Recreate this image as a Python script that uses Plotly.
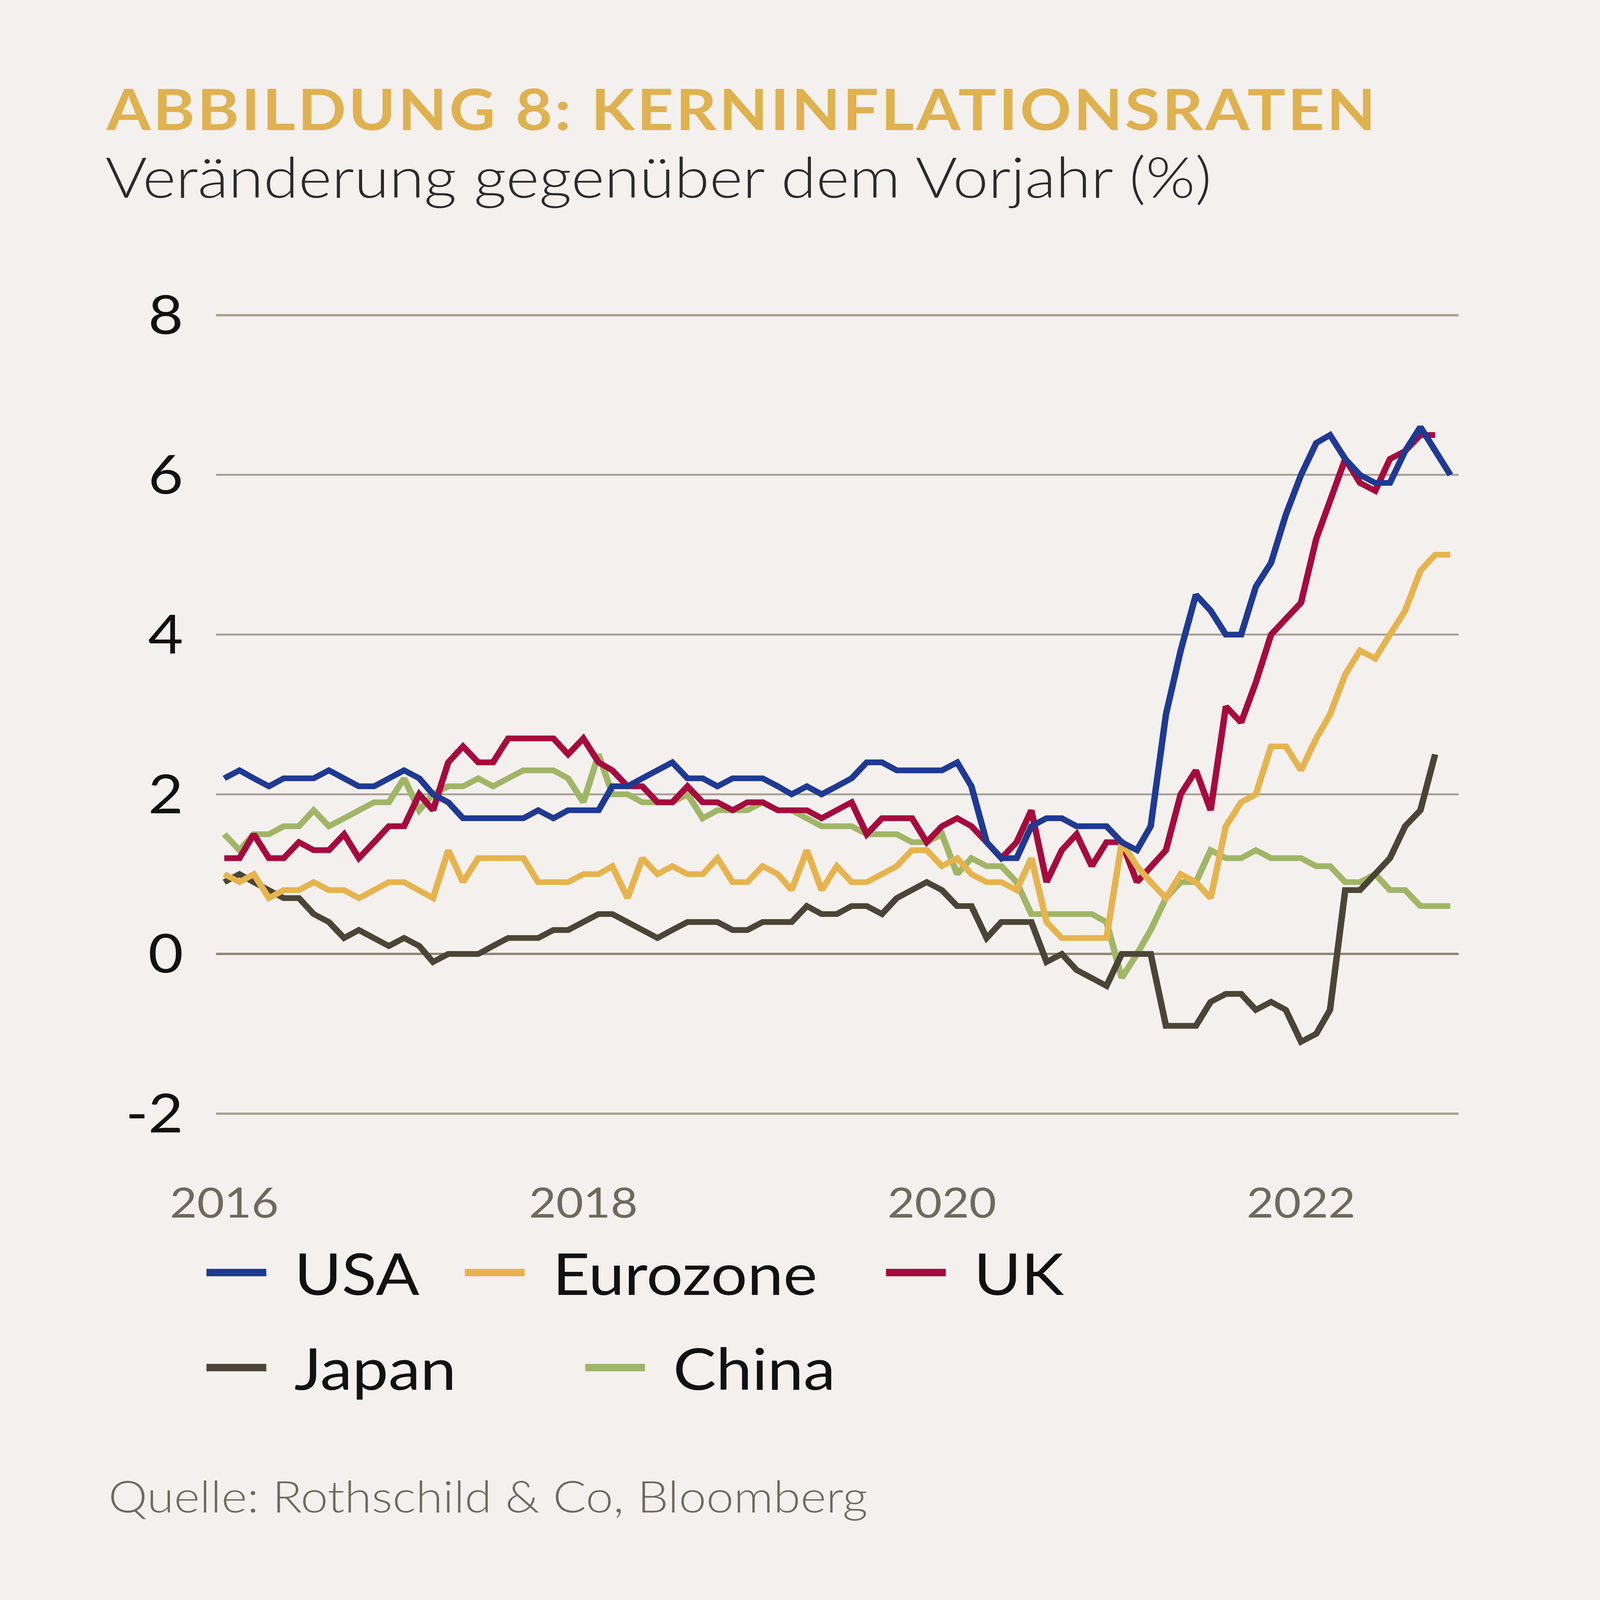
import pandas as pd
import plotly.graph_objects as go

W, H = 4224, 4750
ML, MR, MT, MB = 570, 373, 924, 1432
PW, PH = W - ML - MR, H - MT - MB
# the photographed area is 4096 x 4096; the page is scaled to fill it
VIEW_W, VIEW_H = 4096, 4096

months = pd.date_range("2016-01-01", periods=83, freq="MS")
tick_years = ["2016", "2018", "2020", "2022"]
y_ticks = [-2, 0, 2, 4, 6, 8]
y_tick_text = ["-2", "0", "2", "4", "6", "8"]

usa = [2.2, 2.3, 2.2, 2.1, 2.2, 2.2, 2.2, 2.3, 2.2, 2.1, 2.1, 2.2,
       2.3, 2.2, 2.0, 1.9, 1.7, 1.7, 1.7, 1.7, 1.7, 1.8, 1.7, 1.8,
       1.8, 1.8, 2.1, 2.1, 2.2, 2.3, 2.4, 2.2, 2.2, 2.1, 2.2, 2.2,
       2.2, 2.1, 2.0, 2.1, 2.0, 2.1, 2.2, 2.4, 2.4, 2.3, 2.3, 2.3,
       2.3, 2.4, 2.1, 1.4, 1.2, 1.2, 1.6, 1.7, 1.7, 1.6, 1.6, 1.6,
       1.4, 1.3, 1.6, 3.0, 3.8, 4.5, 4.3, 4.0, 4.0, 4.6, 4.9, 5.5,
       6.0, 6.4, 6.5, 6.2, 6.0, 5.9, 5.9, 6.3, 6.6, 6.3, 6.0]

eurozone = [1.0, 0.9, 1.0, 0.7, 0.8, 0.8, 0.9, 0.8, 0.8, 0.7, 0.8, 0.9,
            0.9, 0.8, 0.7, 1.3, 0.9, 1.2, 1.2, 1.2, 1.2, 0.9, 0.9, 0.9,
            1.0, 1.0, 1.1, 0.7, 1.2, 1.0, 1.1, 1.0, 1.0, 1.2, 0.9, 0.9,
            1.1, 1.0, 0.8, 1.3, 0.8, 1.1, 0.9, 0.9, 1.0, 1.1, 1.3, 1.3,
            1.1, 1.2, 1.0, 0.9, 0.9, 0.8, 1.2, 0.4, 0.2, 0.2, 0.2, 0.2,
            1.4, 1.1, 0.9, 0.7, 1.0, 0.9, 0.7, 1.6, 1.9, 2.0, 2.6, 2.6,
            2.3, 2.7, 3.0, 3.5, 3.8, 3.7, 4.0, 4.3, 4.8, 5.0, 5.0]

uk = [1.2, 1.2, 1.5, 1.2, 1.2, 1.4, 1.3, 1.3, 1.5, 1.2, 1.4, 1.6,
      1.6, 2.0, 1.8, 2.4, 2.6, 2.4, 2.4, 2.7, 2.7, 2.7, 2.7, 2.5,
      2.7, 2.4, 2.3, 2.1, 2.1, 1.9, 1.9, 2.1, 1.9, 1.9, 1.8, 1.9,
      1.9, 1.8, 1.8, 1.8, 1.7, 1.8, 1.9, 1.5, 1.7, 1.7, 1.7, 1.4,
      1.6, 1.7, 1.6, 1.4, 1.2, 1.4, 1.8, 0.9, 1.3, 1.5, 1.1, 1.4,
      1.4, 0.9, 1.1, 1.3, 2.0, 2.3, 1.8, 3.1, 2.9, 3.4, 4.0, 4.2,
      4.4, 5.2, 5.7, 6.2, 5.9, 5.8, 6.2, 6.3, 6.5, 6.5]

japan = [0.9, 1.0, 0.9, 0.8, 0.7, 0.7, 0.5, 0.4, 0.2, 0.3, 0.2, 0.1,
         0.2, 0.1, -0.1, 0.0, 0.0, 0.0, 0.1, 0.2, 0.2, 0.2, 0.3, 0.3,
         0.4, 0.5, 0.5, 0.4, 0.3, 0.2, 0.3, 0.4, 0.4, 0.4, 0.3, 0.3,
         0.4, 0.4, 0.4, 0.6, 0.5, 0.5, 0.6, 0.6, 0.5, 0.7, 0.8, 0.9,
         0.8, 0.6, 0.6, 0.2, 0.4, 0.4, 0.4, -0.1, 0.0, -0.2, -0.3, -0.4,
         0.0, 0.0, 0.0, -0.9, -0.9, -0.9, -0.6, -0.5, -0.5, -0.7, -0.6, -0.7,
         -1.1, -1.0, -0.7, 0.8, 0.8, 1.0, 1.2, 1.6, 1.8, 2.5]

china = [1.5, 1.3, 1.5, 1.5, 1.6, 1.6, 1.8, 1.6, 1.7, 1.8, 1.9, 1.9,
         2.2, 1.8, 2.0, 2.1, 2.1, 2.2, 2.1, 2.2, 2.3, 2.3, 2.3, 2.2,
         1.9, 2.5, 2.0, 2.0, 1.9, 1.9, 1.9, 2.0, 1.7, 1.8, 1.8, 1.8,
         1.9, 1.8, 1.8, 1.7, 1.6, 1.6, 1.6, 1.5, 1.5, 1.5, 1.4, 1.4,
         1.5, 1.0, 1.2, 1.1, 1.1, 0.9, 0.5, 0.5, 0.5, 0.5, 0.5, 0.4,
         -0.3, 0.0, 0.3, 0.7, 0.9, 0.9, 1.3, 1.2, 1.2, 1.3, 1.2, 1.2,
         1.2, 1.1, 1.1, 0.9, 0.9, 1.0, 0.8, 0.8, 0.6, 0.6, 0.6]

series_names = ["USA", "Eurozone", "UK", "Japan", "China"]
series_values = [usa, eurozone, uk, japan, china]
colors = {"USA": "#1f3a92", "Eurozone": "#e6b44e", "UK": "#a60a3e",
          "Japan": "#4a4536", "China": "#a0b666"}

BG = "#f4f0ee"
FONT = "Lato"

fig = go.Figure()
# draw in reverse so USA sits on top
for name, vals in reversed(list(zip(series_names, series_values))):
    fig.add_trace(go.Scatter(
        x=months[:len(vals)], y=vals, mode="lines", name=name,
        line=dict(color=colors[name], width=17), showlegend=False))


def px2x(px):
    return (px - ML) / PW


def py2y(py):
    return (H - MB - py) / PH


def note(text, px, py, size, color, weight=None):
    f = dict(family=FONT, size=size, color=color)
    if weight is not None:
        f["weight"] = weight
    return dict(text=text, x=px2x(px), y=py2y(py), xref="paper", yref="paper",
                xanchor="left", yanchor="middle", showarrow=False, font=f)


annotations = [
    note("<b>ABBILDUNG 8: KERNINFLATIONSRATEN</b>", 374, 321, 168, "#dfb14f"),
    note("Veränderung gegenüber dem Vorjahr (%)", 276, 522, 168, "#2a2a2a", 300),
    note("Quelle: Rothschild & Co, Bloomberg", 284, 4440, 130, "#6e695e", 300),
]

# legend layout (two rows)
legend_pos = {
    "USA": (545, 3778), "Eurozone": (1227, 3778), "UK": (2339, 3778),
    "Japan": (545, 4060), "China": (1545, 4060),
}
shapes = []
for name in series_names:
    lx, ly = legend_pos[name]
    shapes.append(dict(type="line", xref="paper", yref="paper",
                       x0=px2x(lx), x1=px2x(lx + 158), y0=py2y(ly), y1=py2y(ly),
                       line=dict(color=colors[name], width=22)))
    annotations.append(note(name, lx + 230, ly, 170, "#111111"))

fig.update_layout(
    width=W, height=H,
    margin=dict(l=ML, r=MR, t=MT, b=MB),
    paper_bgcolor=BG, plot_bgcolor=BG,
    font=dict(family=FONT),
    showlegend=False,
    annotations=annotations,
    shapes=shapes,
    xaxis=dict(
        type="date",
        range=["2015-12-15", "2022-11-18"],
        tickvals=[f"{y}-01-01" for y in tick_years],
        ticktext=tick_years,
        showgrid=False, zeroline=False, showline=False,
        ticks="", ticklabelstandoff=172,
        tickfont=dict(family=FONT, size=124, color="#6e695e"),
    ),
    yaxis=dict(
        range=[-2.05, 8.05],
        tickvals=y_ticks, ticktext=y_tick_text,
        showgrid=True, gridcolor="#a8a296", gridwidth=6,
        zeroline=True, zerolinecolor="#8e8779", zerolinewidth=7,
        showline=False,
        ticks="", ticklabelstandoff=85,
        tickfont=dict(family=FONT, size=160, color="#111111"),
    ),
)

post = (
    "document.body.style.margin='0';"
    "document.body.style.overflow='hidden';"
    f"document.body.style.background='{BG}';"
    "var gd=document.querySelector('.plotly-graph-div');"
    "gd.style.transformOrigin='0 0';"
    f"gd.style.transform='scale({VIEW_W / W:.5f},{VIEW_H / H:.5f})';"
    "var t=document.querySelector('.annotation[data-index=\"0\"] .annotation-text');"
    "if(t){t.style.letterSpacing='6px';}"
)

fig.write_html("out.html", config={"displayModeBar": False}, post_script=post)
